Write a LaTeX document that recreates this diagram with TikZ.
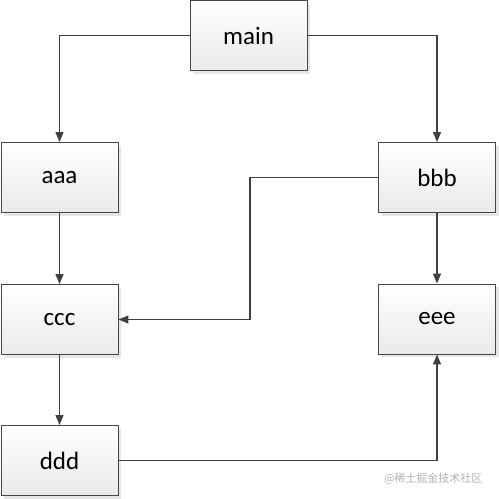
\documentclass[tikz,border=0pt]{standalone}
\usepackage{fontspec}
\setmainfont{Carlito}
\newfontfamily\cjkfont{Noto Sans CJK SC}
\usetikzlibrary{arrows.meta,shadows}
\definecolor{linegray}{RGB}{64,64,64}
\definecolor{boxedge}{RGB}{70,70,70}
\definecolor{boxbottom}{RGB}{234,234,234}

\begin{document}
\begin{tikzpicture}[x=1pt, y=-1pt,
    funcbox/.style={draw=boxedge, line width=0.9pt, top color=white, bottom color=boxbottom,
        minimum width=117pt, minimum height=70pt, inner sep=0pt,
        font=\fontsize{25}{29}\selectfont,
        drop shadow={opacity=0.2, shadow xshift=3pt, shadow yshift=-3pt}},
    arrow/.style={-{Triangle[length=10pt, width=8pt]}, linegray, line width=1.3pt}
]
\useasboundingbox (0,0) rectangle (499,499);

\node[funcbox] (main) at (248.5,35.5) {main};
\node[funcbox] (aaa) at (59.5,177.5) {aaa};
\node[funcbox] (bbb) at (437,177.5) {bbb};
\node[funcbox] (ccc) at (59.5,319.5) {ccc};
\node[funcbox] (eee) at (437,319) {eee};
\node[funcbox] (ddd) at (59.5,460.5) {ddd};
\coordinate (bend) at (250,177.5);

\draw[arrow] (main.west) -| (aaa.north);
\draw[arrow] (main.east) -| (bbb.north);
\draw[arrow] (aaa.south) -- (ccc.north);
\draw[arrow] (ccc.south) -- (ddd.north);
\draw[arrow] (bbb.south) -- (eee.north);
\draw[arrow] (bbb.west) -- (bend) |- (ccc.east);
\draw[arrow] (ddd.east) -| (eee.south);

\node[text=gray!60, font=\cjkfont\fontsize{11}{13}\selectfont, anchor=east] (mark) at (486,479) {@稀土掘金技术社区};
\end{tikzpicture}
\end{document}
